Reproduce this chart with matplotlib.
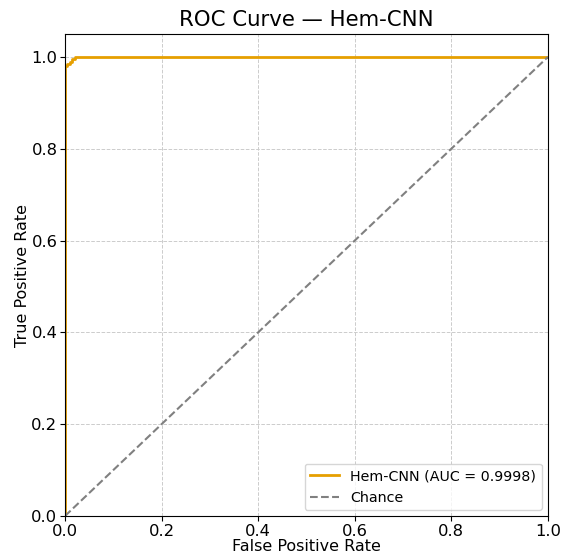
import matplotlib
matplotlib.use("Agg")
import matplotlib.pyplot as plt

# ROC points
fpr = [0.0, 0.0, 0.0, 0.005, 0.005, 0.01, 0.01, 0.015, 0.015, 0.02, 0.02, 1.0]
tpr = [0.0, 0.5, 0.98, 0.98, 0.985, 0.985, 0.99, 0.99, 0.995, 0.995, 1.0, 1.0]
auc = 0.9998
chance = [0.0, 1.0]

fig = plt.figure(figsize=(5.63, 5.59), dpi=100)
ax = fig.add_axes([0.1155, 0.077, 0.8575, 0.862])

ax.plot(fpr, tpr, color="#E69F00", lw=2, label=f"Hem-CNN (AUC = {auc:.4f})")
ax.plot(chance, chance, color="gray", lw=1.5, ls="--", label="Chance")

ax.set_xlim(0, 1)
ax.set_ylim(0, 1.05)
ax.grid(True, ls="--", lw=0.7, color="#cccccc")
ax.set_xlabel("False Positive Rate", fontsize=11.5, labelpad=0)
ax.set_ylabel("True Positive Rate", fontsize=11.5, labelpad=1)
ax.set_title("ROC Curve — Hem-CNN", fontsize=15.3)
ax.tick_params(labelsize=11.8, pad=2)
ax.legend(loc="lower right", fontsize=10.3, borderaxespad=0.4)

fig.savefig("out.png", dpi=100)
